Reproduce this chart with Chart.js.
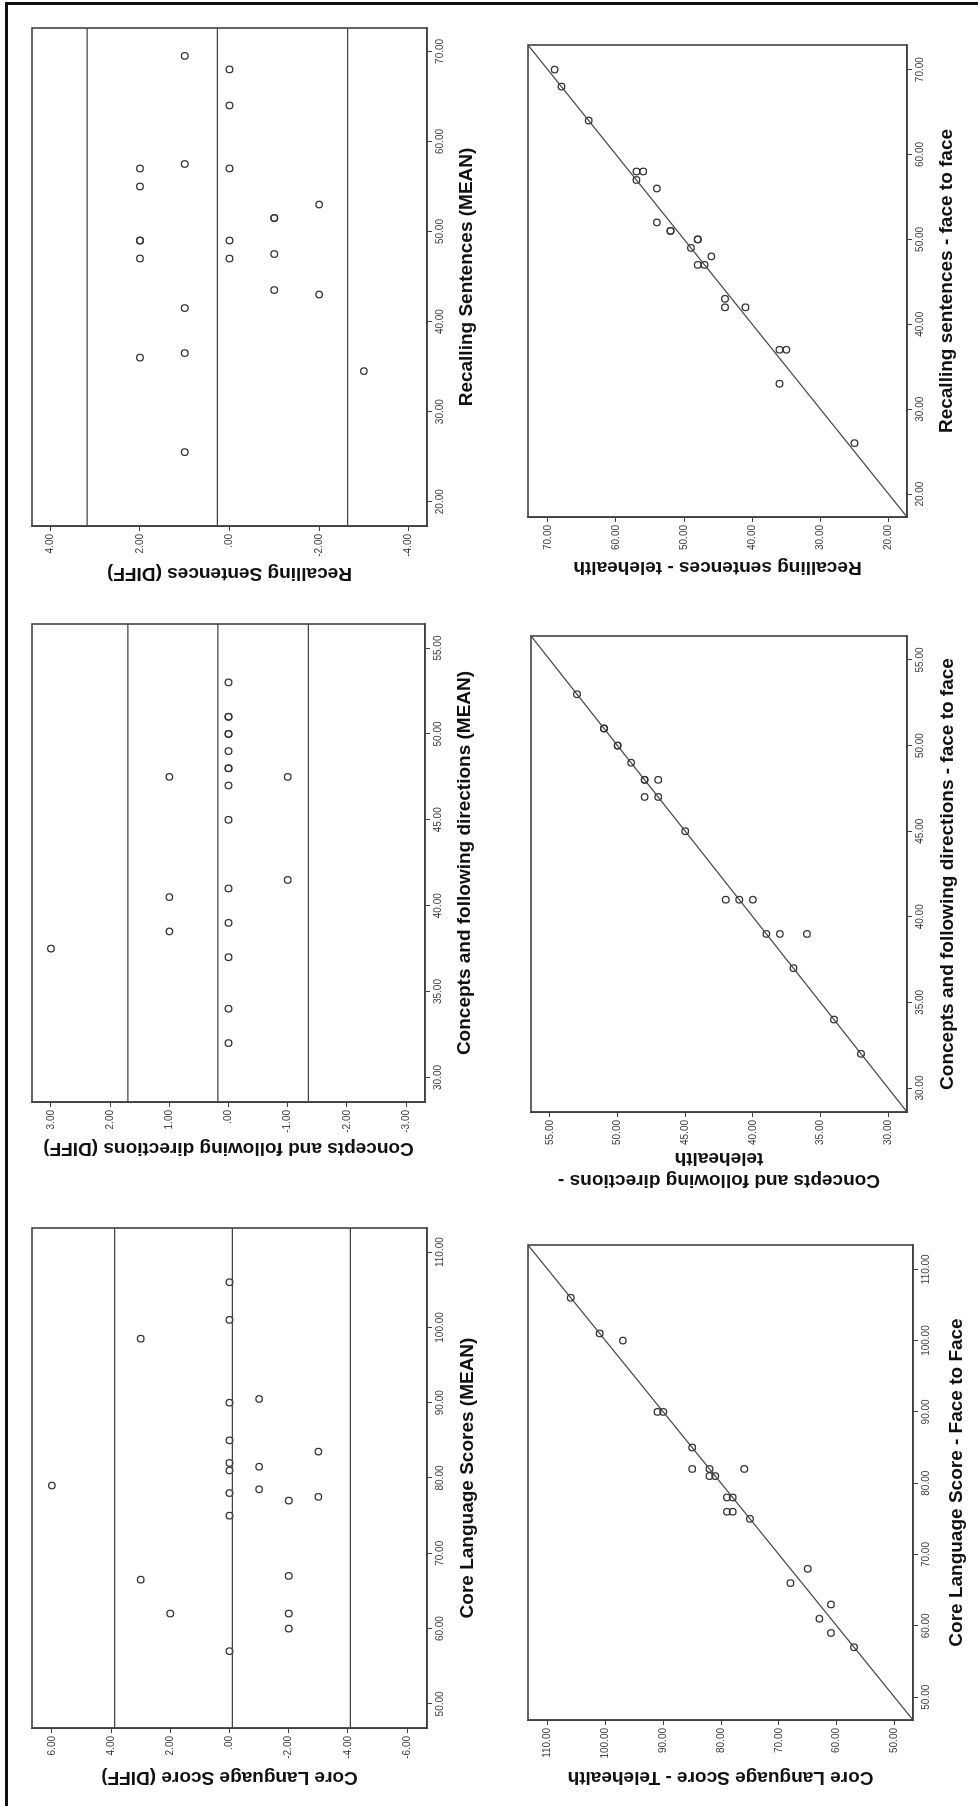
<!DOCTYPE html>
<html>
<head>
<meta charset="utf-8">
<script src="https://cdn.jsdelivr.net/npm/chart.js@4.4.0/dist/chart.umd.min.js"></script>
<style>
  html, body { margin: 0; padding: 0; background: #fff; }
  body { width: 978px; height: 1806px; position: relative; overflow: hidden; }
  /* the figure is drawn landscape, then turned a quarter turn to the left */
  #sheet { position: absolute; left: 0; top: 0; width: 1806px; height: 978px;
           transform-origin: 0 0; transform: translate(0px, 1806px) rotate(-90deg); }
  #sheet canvas { position: absolute; }
  #frame { position: absolute; left: 5px; top: 2px; right: -20px; bottom: -20px;
           border-left: 3px solid #111; border-top: 3px solid #111; }
</style>
</head>
<body>
<div id="sheet"></div>
<div id="frame"></div>
<script>
// ---- data ----

// Recalling sentences
const rsFace = [70, 68, 64, 58, 58, 57, 56, 52, 51, 51, 50, 50, 49, 48, 47, 47, 43, 42, 42, 37, 37, 33, 26];
const rsTele = [69, 68, 64, 57, 56, 57, 54, 54, 52, 52, 48, 48, 49, 46, 48, 47, 44, 44, 41, 36, 35, 36, 25];
const rsMean = [69.5, 68, 64, 57.5, 57, 57, 55, 53, 51.5, 51.5, 49, 49, 49, 47, 47.5, 47, 43.5, 43, 41.5, 36.5, 36, 34.5, 25.5];
const rsDiff = [1, 0, 0, 1, 2, 0, 2, -2, -1, -1, 2, 2, 0, 2, -1, 0, -1, -2, 1, 1, 2, -3, 1];
const rsLimits = [3.18, 0.27, -2.64];

// Concepts and following directions
const cfFace = [53, 51, 51, 50, 50, 49, 48, 48, 48, 47, 47, 45, 41, 41, 41, 39, 39, 39, 37, 34, 32];
const cfTele = [53, 51, 51, 50, 50, 49, 48, 48, 47, 48, 47, 45, 42, 41, 40, 39, 38, 36, 37, 34, 32];
const cfMean = [53, 51, 51, 50, 50, 49, 48, 48, 47.5, 47.5, 47, 45, 41.5, 41, 40.5, 39, 38.5, 37.5, 37, 34, 32];
const cfDiff = [0, 0, 0, 0, 0, 0, 0, 0, 1, -1, 0, 0, -1, 0, 1, 0, 1, 3, 0, 0, 0];
const cfLimits = [1.70, 0.18, -1.35];

// Core language score
const clFace = [106, 101, 100, 90, 90, 85, 82, 82, 82, 81, 81, 78, 78, 76, 76, 75, 66, 68, 61, 63, 59, 57];
const clTele = [106, 101, 97, 91, 90, 85, 85, 82, 76, 82, 81, 79, 78, 79, 78, 75, 68, 65, 63, 61, 61, 57];
const clMean = [106, 101, 98.5, 90.5, 90, 85, 83.5, 82, 79, 81.5, 81, 78.5, 78, 77.5, 77, 75, 67, 66.5, 62, 62, 60, 57];
const clDiff = [0, 0, 3, -1, 0, 0, -3, 0, 6, -1, 0, -1, 0, -3, -2, 0, -2, 3, -2, 2, -2, 0];
const clLimits = [3.88, -0.10, -4.08];

// axis ranges and tick steps
const rsMeanAxis = [17.3, 72.6, 10];
const rsDiffAxis = [-4.41, 4.41, 2];
const rsScoreAxis = [17.3, 72.9, 10];
const cfMeanAxis = [28.57, 56.4, 5];
const cfDiffAxis = [-3.32, 3.32, 1];
const cfScoreAxis = [28.6, 56.4, 5];
const clMeanAxis = [46.8, 113.2, 10];
const clDiffAxis = [-6.67, 6.67, 2];
const clScoreAxis = [46.8, 113.4, 10];

Chart.defaults.font.family = "'Liberation Sans', Arial, Helvetica, sans-serif";

const AXW = 100;   // room kept left of the plot for the y axis
const AXH = 70;    // room kept below the plot for the x axis
const PADT = 12, PADR = 12;
const TITLE_SIZE = 19;
const TITLE_LH = TITLE_SIZE * 1.15;

// SPSS style labels: .00, 2.00, -1.00
function spssLabel(value) {
    let s = Number(value).toFixed(2);
    if (s === '0.00' || s === '-0.00') s = '.00';
    return s;
}

// draws the remaining sides of the plot frame
const frameBox = {
    id: 'frameBox',
    afterDatasetsDraw(chart) {
        const a = chart.chartArea;
        const ctx = chart.ctx;
        ctx.save();
        ctx.strokeStyle = '#404040';
        ctx.lineWidth = 1.6;
        ctx.strokeRect(a.left, a.top, a.right - a.left, a.bottom - a.top);
        ctx.restore();
    }
};

function makeAxis(range, pos, titleText, titlePad) {
    return {
        type: 'linear',
        position: pos,
        min: range[0],
        max: range[1],
        ticks: {
            stepSize: range[2],
            includeBounds: false,
            autoSkip: false,
            maxRotation: 0,
            minRotation: 0,
            color: '#3a3a3a',
            font: { size: 10 },
            padding: pos === 'left' ? 3 : 2,
            callback: spssLabel
        },
        grid: { display: true, drawOnChartArea: false, drawTicks: true, tickLength: 5, color: '#404040', lineWidth: 1 },
        border: { display: true, color: '#404040', width: 1.6 },
        title: {
            display: true,
            text: titleText,
            color: '#111',
            font: { size: TITLE_SIZE, weight: 'bold', lineHeight: 1.15 },
            padding: titlePad
        },
        afterFit(scale) {
            if (pos === 'left') scale.width = AXW;
            else scale.height = AXH;
        }
    };
}

function pointSet(xs, ys) {
    return {
        data: xs.map((v, i) => ({ x: v, y: ys[i] })),
        pointStyle: 'circle',
        pointRadius: 3.3,
        pointBorderWidth: 1.25,
        pointBorderColor: '#333',
        pointBackgroundColor: 'rgba(0,0,0,0)',
        showLine: false
    };
}

function lineSet(pts) {
    return {
        data: pts,
        showLine: true,
        borderColor: '#444',
        borderWidth: 1.25,
        pointRadius: 0,
        fill: false
    };
}

// area = plot rectangle [left, top, right, bottom] on the landscape sheet
function makePanel(opt) {
    const [L, T, R, B] = opt.area;
    const cv = document.createElement('canvas');
    const w = R - L + AXW + PADR;
    const h = B - T + PADT + AXH;
    cv.width = w; cv.height = h;
    cv.style.width = w + 'px'; cv.style.height = h + 'px';
    cv.style.left = (L - AXW) + 'px';
    cv.style.top = (T - PADT) + 'px';
    document.getElementById('sheet').appendChild(cv);

    const datasets = [];
    if (opt.limits) {
        opt.limits.forEach((v) => {
            datasets.push(lineSet([{ x: opt.xAxis[0], y: v }, { x: opt.xAxis[1], y: v }]));
        });
    } else {
        datasets.push(lineSet([{ x: opt.xAxis[0], y: opt.yAxis[0] }, { x: opt.xAxis[1], y: opt.yAxis[1] }]));
    }
    datasets.push(pointSet(opt.xs, opt.ys));

    new Chart(cv, {
        type: 'scatter',
        data: { datasets: datasets },
        options: {
            responsive: false,
            animation: false,
            devicePixelRatio: 1,
            layout: { padding: { top: PADT, right: PADR, left: 0, bottom: 0 } },
            plugins: { legend: { display: false }, tooltip: { enabled: false } },
            scales: {
                x: makeAxis(opt.xAxis, 'bottom', opt.xTitle, { top: 0, bottom: AXH - TITLE_LH / 2 - opt.dx }),
                y: makeAxis(opt.yAxis, 'left', opt.yTitle, { top: AXW - opt.dy - TITLE_LH / 2, bottom: 0 })
            }
        },
        plugins: [frameBox]
    });
}

// Core language (left on the landscape sheet)
makePanel({
    xs: clMean, ys: clDiff, limits: clLimits, xAxis: clMeanAxis, yAxis: clDiffAxis,
    xTitle: 'Core Language Scores (MEAN)', yTitle: 'Core Language Score (DIFF)',
    area: [78, 32, 578, 427], dx: 41, dy: 49
});
makePanel({
    xs: clFace, ys: clTele, xAxis: clScoreAxis, yAxis: clScoreAxis,
    xTitle: 'Core Language Score - Face to Face', yTitle: 'Core Language Score - Telehealth',
    area: [86, 528, 561, 913], dx: 44, dy: 57
});

// Concepts and following directions (middle)
makePanel({
    xs: cfMean, ys: cfDiff, limits: cfLimits, xAxis: cfMeanAxis, yAxis: cfDiffAxis,
    xTitle: 'Concepts and following directions (MEAN)', yTitle: 'Concepts and following directions (DIFF)',
    area: [704, 32, 1182, 425], dx: 40, dy: 46
});
makePanel({
    xs: cfFace, ys: cfTele, xAxis: cfScoreAxis, yAxis: cfScoreAxis,
    xTitle: 'Concepts and following directions - face to face',
    yTitle: ['Concepts and following directions -', 'telehealth'],
    area: [694, 531, 1170, 907], dx: 41, dy: 68
});

// Recalling sentences (right)
makePanel({
    xs: rsMean, ys: rsDiff, limits: rsLimits, xAxis: rsMeanAxis, yAxis: rsDiffAxis,
    xTitle: 'Recalling Sentences (MEAN)', yTitle: 'Recalling Sentences (DIFF)',
    area: [1280, 32, 1778, 427], dx: 40, dy: 47
});
makePanel({
    xs: rsFace, ys: rsTele, xAxis: rsScoreAxis, yAxis: rsScoreAxis,
    xTitle: 'Recalling sentences - face to face', yTitle: 'Recalling sentences - telehealth',
    area: [1289, 528, 1761, 907], dx: 40, dy: 50
});
</script>
</body>
</html>
